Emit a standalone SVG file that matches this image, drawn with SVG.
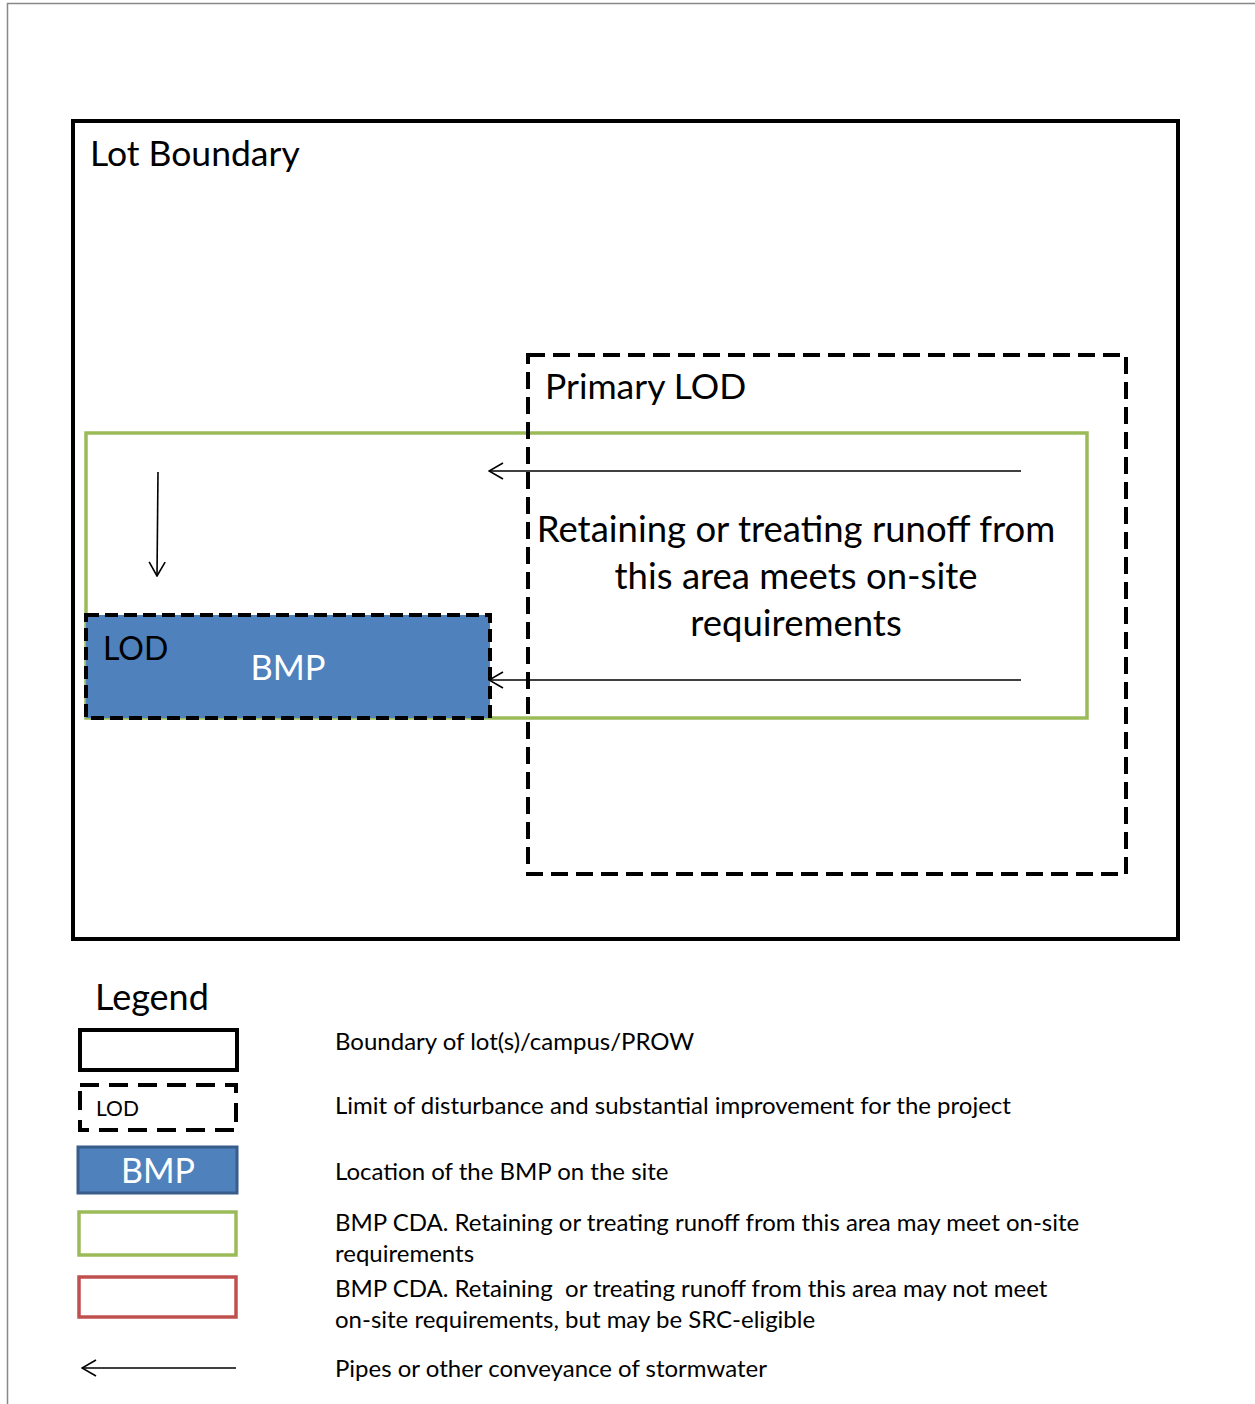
<svg xmlns="http://www.w3.org/2000/svg" width="1255" height="1404" viewBox="0 0 1255 1404">
<style>
  text { font-family: Lato, "Liberation Sans", sans-serif; fill: #000; }
  .solid { fill: none; stroke: #000; stroke-width: 4; }
  .lod { fill: none; stroke: #000; stroke-width: 4; stroke-dasharray: 17 8; }
  .cda { fill: none; stroke: #9BBB59; stroke-width: 3.5; }
  .red { fill: none; stroke: #C0504D; stroke-width: 3.5; }
  .pipe { fill: none; stroke: #000; stroke-width: 1.6; marker-end: url(#arr); }
  .big { font-size: 35.5px; }
  .mid { font-size: 36.5px; }
  .leg { font-size: 24px; white-space: pre; }
</style>
<defs>
  <marker id="arr" viewBox="0 0 16 18" refX="15" refY="9" markerWidth="16" markerHeight="18" markerUnits="userSpaceOnUse" orient="auto">
    <path d="M1,1 L15,9 L1,17" fill="none" stroke="#000" stroke-width="1.6"/>
  </marker>
</defs>
<rect width="1255" height="1404" fill="#fff"/>
<path d="M7.5,1404 V3.5 H1255" fill="none" stroke="#888" stroke-width="1.5"/>

<g id="lot-boundary">
  <rect class="solid" x="73" y="121" width="1105" height="818"/>
  <text class="big" x="90" y="166">Lot Boundary</text>
</g>
<g id="bmp-cda">
  <rect class="cda" x="86" y="433" width="1001" height="285"/>
  <text class="mid" x="796" y="542" text-anchor="middle">Retaining or treating runoff from</text>
  <text class="mid" x="796" y="589" text-anchor="middle">this area meets on-site</text>
  <text class="mid" x="796" y="636" text-anchor="middle">requirements</text>
</g>
<g id="primary-lod">
  <rect class="lod" x="528" y="355" width="598" height="519"/>
  <text class="big" x="545" y="399">Primary LOD</text>
</g>
<g id="bmp">
  <rect x="86" y="615" width="404" height="103" fill="#4F81BD"/>
  <rect x="86" y="615" width="404" height="103" fill="none" stroke="#000" stroke-width="4" stroke-dasharray="13 6"/>
  <text x="103" y="660" style="font-size:32px">LOD</text>
  <text x="288" y="680" text-anchor="middle" style="font-size:34.5px;fill:#fff">BMP</text>
</g>
<g id="connectors">
  <line class="pipe" x1="1021" y1="471" x2="489" y2="471"/>
  <line class="pipe" x1="1021" y1="680" x2="489" y2="680"/>
  <line class="pipe" x1="158" y1="472" x2="157" y2="576"/>
</g>

<g id="legend">
  <text x="95" y="1010" style="font-size:36px">Legend</text>
  <g id="legend-boundary">
    <rect class="solid" x="80" y="1030" width="157" height="40"/>
    <text class="leg" x="335" y="1050">Boundary of lot(s)/campus/PROW</text>
  </g>
  <g id="legend-lod">
    <rect x="80" y="1085" width="156" height="45" fill="none" stroke="#000" stroke-width="4" stroke-dasharray="19 10"/>
    <text x="96" y="1116" style="font-size:21px">LOD</text>
    <text class="leg" x="335" y="1114">Limit of disturbance and substantial improvement for the project</text>
  </g>
  <g id="legend-bmp">
    <rect x="78" y="1147" width="159" height="46" fill="#4F81BD" stroke="#385D8A" stroke-width="3"/>
    <text x="158" y="1183" text-anchor="middle" style="font-size:34px;fill:#fff">BMP</text>
    <text class="leg" x="335" y="1180">Location of the BMP on the site</text>
  </g>
  <g id="legend-cda-green">
    <rect class="cda" x="79" y="1212" width="157" height="43"/>
    <text class="leg" x="335" y="1231">BMP CDA. Retaining or treating runoff from this area may meet on-site</text>
    <text class="leg" x="335" y="1262">requirements</text>
  </g>
  <g id="legend-cda-red">
    <rect class="red" x="79" y="1277" width="157" height="40"/>
    <text class="leg" x="335" y="1297">BMP CDA. Retaining  or treating runoff from this area may not meet</text>
    <text class="leg" x="335" y="1328">on-site requirements, but may be SRC-eligible</text>
  </g>
  <g id="legend-pipe">
    <line class="pipe" x1="236" y1="1368" x2="82" y2="1368"/>
    <text class="leg" x="335" y="1377">Pipes or other conveyance of stormwater</text>
  </g>
</g>
</svg>
